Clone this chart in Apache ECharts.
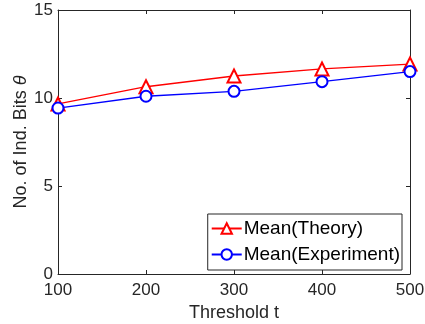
<!DOCTYPE html>
<html>
<head>
<meta charset="utf-8">
<script src="https://cdn.jsdelivr.net/npm/echarts@6/dist/echarts.min.js"></script>
<style>
  html, body { margin: 0; padding: 0; background: #fff; }
  #chart { width: 425px; height: 324px; }
</style>
</head>
<body>
<div id="chart"></div>
<script>
const thresholds = [100, 200, 300, 400, 500];
const theory = [9.66, 10.64, 11.25, 11.65, 11.93];
const experiment = [9.43, 10.1, 10.38, 10.93, 11.5];
const yTicks = [0, 5, 10, 15];

const axisColor = "#262626";
const font = "Liberation Sans, Arial, sans-serif";

const chart = echarts.init(document.getElementById("chart"));

const baseAxis = {
  type: "value",
  axisLine: { show: true, onZero: false, lineStyle: { color: axisColor, width: 1 } },
  axisTick: { show: true, inside: true, length: 4, lineStyle: { color: axisColor } },
  splitLine: { show: false },
};

const option = {
  animation: false,
  backgroundColor: "#fff",
  grid: { left: 58, right: 15, top: 10, bottom: 50, outerBoundsMode: "none" },
  legend: {
    right: 23,
    top: 214,
    orient: "vertical",
    backgroundColor: "#fff",
    borderColor: axisColor,
    borderWidth: 1,
    borderRadius: 0,
    padding: [5, 2, 6, 3],
    itemGap: 7,
    itemWidth: 30,
    itemHeight: 13,
    textStyle: { fontFamily: font, fontSize: 19, color: "#000", padding: [0, 0, 0, -3] },
    data: ["Mean(Theory)", "Mean(Experiment)"],
  },
  xAxis: [
    {
      ...baseAxis,
      min: 100,
      max: 500,
      interval: 100,
      name: "Threshold t",
      nameLocation: "middle",
      nameGap: 30,
      nameMoveOverlap: false,
      nameTextStyle: { fontFamily: font, fontSize: 18, color: axisColor },
      axisLabel: { fontFamily: font, fontSize: 17, color: axisColor, margin: 8 },
    },
    {
      ...baseAxis,
      position: "top",
      min: 100,
      max: 500,
      interval: 100,
      axisLabel: { show: false },
    },
  ],
  yAxis: [
    {
      ...baseAxis,
      min: yTicks[0],
      max: yTicks[yTicks.length - 1],
      interval: 5,
      name: "{n|No. of Ind. Bits }{t|θ}",
      nameLocation: "middle",
      nameGap: 28,
      nameMoveOverlap: false,
      nameTextStyle: {
        rich: {
          n: { fontFamily: font, fontSize: 18, color: axisColor },
          t: { fontFamily: font, fontSize: 18, fontStyle: "italic", color: axisColor },
        },
      },
      axisLabel: { fontFamily: font, fontSize: 17, color: axisColor, margin: 5 },
    },
    {
      ...baseAxis,
      position: "right",
      min: yTicks[0],
      max: yTicks[yTicks.length - 1],
      interval: 5,
      axisLabel: { show: false },
    },
  ],
  series: [
    {
      name: "Mean(Theory)",
      type: "line",
      data: thresholds.map((t, i) => [t, theory[i]]),
      symbol: "emptyTriangle",
      symbolSize: 13,
      itemStyle: { color: "#ff0000", borderWidth: 1.3 },
      lineStyle: { color: "#ff0000", width: 1.3 },
      z: 3,
    },
    {
      name: "Mean(Experiment)",
      type: "line",
      data: thresholds.map((t, i) => [t, experiment[i]]),
      symbol: "emptyCircle",
      symbolSize: 11,
      itemStyle: { color: "#0000ff", borderWidth: 1.3 },
      lineStyle: { color: "#0000ff", width: 1.3 },
      z: 3,
    },
  ],
};

chart.setOption(option);
</script>
</body>
</html>
